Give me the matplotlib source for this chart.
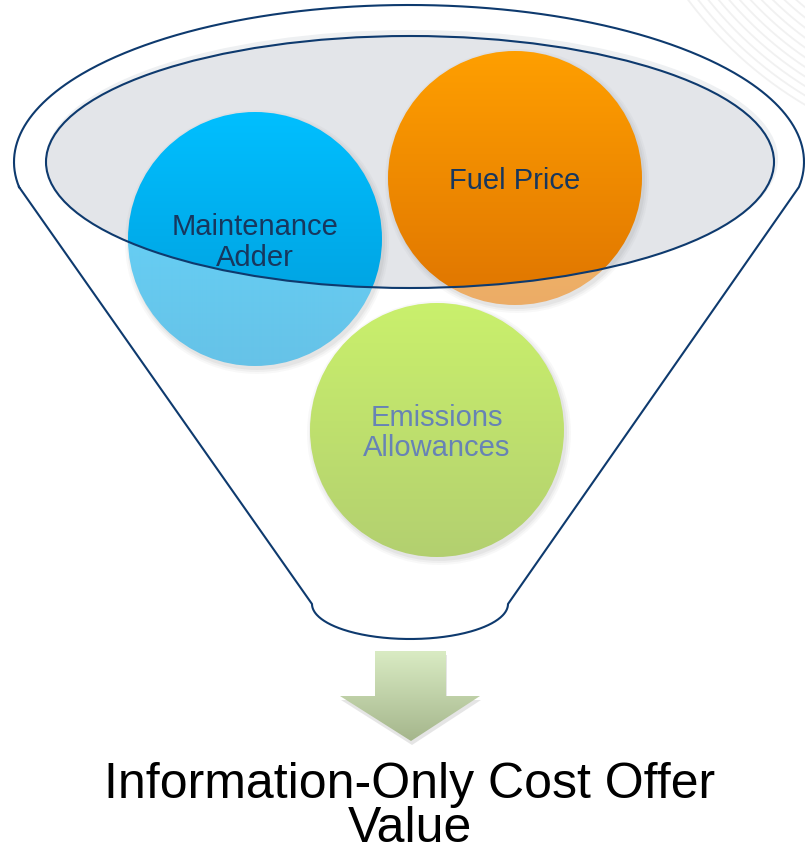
import numpy as np
import matplotlib
matplotlib.use("Agg")
import matplotlib.pyplot as plt
from matplotlib.patches import Circle, Ellipse, Polygon
from matplotlib.colors import to_rgb

plt.rcParams['font.family'] = ['Liberation Sans', 'DejaVu Sans']

# diagram content
labels = [["Maintenance", "Adder"], ["Fuel Price"], ["Emissions", "Allowances"]]
result_lines = ["Information-Only Cost Offer", "Value"]

# layout (pixel coords, y down)
W, H = 805, 853
circle_centers = [(255, 240), (515, 179), (437, 431)]
circle_r = 127
circle_tops = ["#00bfff", "#ff9f00", "#a6e60a"]
circle_bottoms = ["#009ad8", "#df7500", "#80b010"]
text_colors = ["#17375e", "#17375e", "#6783b5"]

inner = dict(cx=410, cy=163, a=364, b=126)
outer = dict(cx=409, cy=163, a=395, b=157)
bowl = dict(cx=410, cy=605, a=98, b=35)
NAVY = "#0e3a6e"
WASH = 0.4


def inside_inner(x, y):
    return ((x - inner['cx']) / inner['a']) ** 2 + ((y - inner['cy']) / inner['b']) ** 2 <= 1.0


def gradient_circle(ax, center, r, top, bottom):
    cx, cy = center
    n = 2 * r
    xs = np.linspace(cx - r, cx + r, n)
    ys = np.linspace(cy - r, cy + r, n)
    X, Y = np.meshgrid(xs, ys)
    t = (Y - (cy - r)) / (2 * r)
    c0, c1 = np.array(to_rgb(top)), np.array(to_rgb(bottom))
    img = c0[None, None, :] * (1 - t[..., None]) + c1[None, None, :] * t[..., None]
    # parts below the liquid surface look washed out
    mask = ~inside_inner(X, Y)
    img[mask] = img[mask] * (1 - WASH) + WASH
    patch = Circle(center, r, facecolor='none', edgecolor='none')
    ax.add_patch(patch)
    ax.imshow(img, extent=(cx - r, cx + r, cy + r, cy - r), origin='upper',
              clip_path=patch, interpolation='bilinear', aspect='auto', zorder=3)


fig = plt.figure(figsize=(W / 100, H / 100), dpi=100)
ax = fig.add_axes([0, 0, 1, 1])
ax.set_xlim(0, W)
ax.set_ylim(H, 0)
ax.axis('off')

# faint decoration in the top right corner
for rad in np.arange(322, 404, 8):
    th = np.linspace(np.pi / 2, np.pi, 300)
    ax.plot(1010 + rad * np.cos(th), -240 + rad * np.sin(th), color="#f1f1f1", lw=1.3, zorder=0)

# gray liquid surface
ax.add_patch(Ellipse((inner['cx'] + 2, inner['cy'] - 3), 2 * inner['a'] + 4, 2 * inner['b'] + 6,
                     facecolor="#eef0f2", edgecolor='none', zorder=1))
ax.add_patch(Ellipse((inner['cx'], inner['cy']), 2 * inner['a'], 2 * inner['b'],
                     facecolor="#e3e5e9", edgecolor='none', zorder=1))

# circles
for (cx, cy), top, bot in zip(circle_centers, circle_tops, circle_bottoms):
    for k, al in [(5, 0.05), (3, 0.07), (1, 0.09)]:
        ax.add_patch(Circle((cx + 2, cy + 3), circle_r + k, facecolor="#808080",
                            edgecolor='none', alpha=al, zorder=2))
    gradient_circle(ax, (cx, cy), circle_r, top, bot)

# funnel outline: rim arc, two sides, rounded bottom
th = np.linspace(np.pi - 0.16, 2 * np.pi + 0.16, 400)
ex = outer['cx'] + outer['a'] * np.cos(th)
ey = outer['cy'] + outer['b'] * np.sin(th)
x_l, y_l = ex[0], ey[0]
tb = np.linspace(0, np.pi, 200)
bx = bowl['cx'] + bowl['a'] * np.cos(tb)
by = bowl['cy'] + bowl['b'] * np.sin(tb)
fx = np.concatenate([ex, bx, [x_l]])
fy = np.concatenate([ey, by, [y_l]])
ax.plot(fx, fy, color=NAVY, lw=1.5, zorder=5, solid_joinstyle='round')

ax.add_patch(Ellipse((inner['cx'], inner['cy']), 2 * inner['a'], 2 * inner['b'],
                     facecolor='none', edgecolor=NAVY, lw=1.5, zorder=5))

# circle labels
for (cx, cy), lines, col in zip(circle_centers, labels, text_colors):
    n = len(lines)
    for i, line in enumerate(lines):
        base = cy + 10 + (i - (n - 1) / 2) * 31
        ax.text(cx, base, line, ha='center', va='baseline', fontsize=21, color=col, zorder=6)

# arrow
arrow = [(375, 652), (446, 652), (446, 697), (480, 697), (411, 742), (340, 697), (375, 697)]
shadow = Polygon([(x + 1, y + 4) for x, y in arrow], closed=True, facecolor="#9a9a9a",
                 edgecolor='none', alpha=0.25, zorder=3)
ax.add_patch(shadow)
arr = Polygon(arrow, closed=True, facecolor='none', edgecolor='none', zorder=4)
ax.add_patch(arr)
g = np.linspace(0, 1, 100)[:, None, None]
c0, c1 = np.array(to_rgb("#d9ebc3")), np.array(to_rgb("#a5b68c"))
img = c0 * (1 - g) + c1 * g
ax.imshow(img, extent=(340, 480, 742, 652), origin='upper', clip_path=arr,
          interpolation='bilinear', aspect='auto', zorder=4)

# result text
ax.text(410, 798, result_lines[0], ha='center', va='baseline', fontsize=36, color='black')
ax.text(410, 842, result_lines[1], ha='center', va='baseline', fontsize=36, color='black')

ax.set_xlim(0, W)
ax.set_ylim(H, 0)
fig.savefig("out.png", dpi=100)
